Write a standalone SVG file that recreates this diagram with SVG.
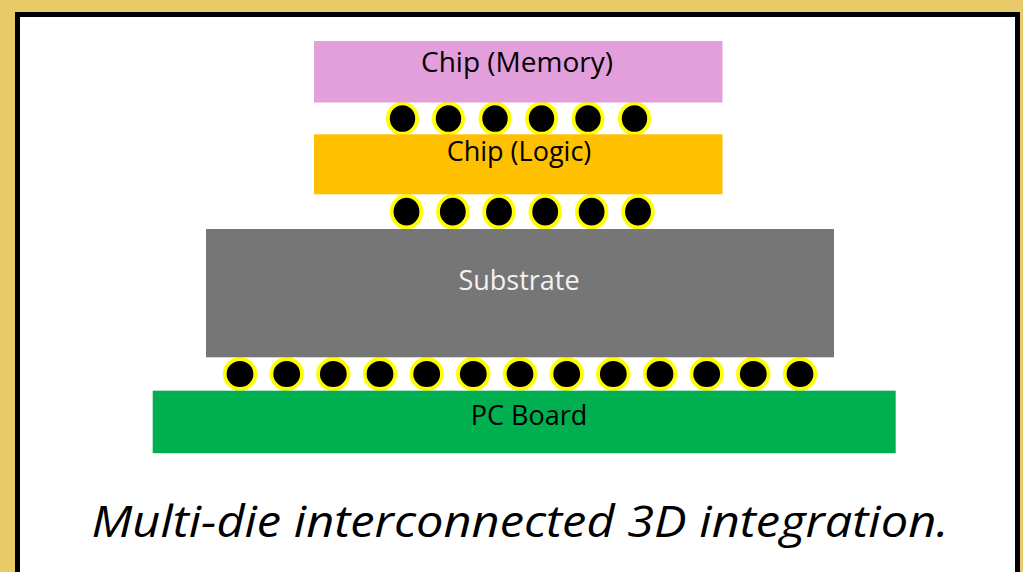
<svg xmlns="http://www.w3.org/2000/svg" width="1023" height="572" viewBox="0 0 1023 572">
  <style>
    .ball { fill: #000000; stroke: #FFFF00; stroke-width: 3.8; }
    .lbl { font-family: "Open Sans", "Noto Sans", sans-serif; font-size: 27px; text-anchor: middle; fill: #000000; }
    .cap { font-family: "Open Sans", "Noto Sans", sans-serif; font-size: 44px; font-style: italic; text-anchor: middle; fill: #000000; }
  </style>
  <rect x="0" y="0" width="1023" height="572" fill="#E8CB69"/>
  <rect x="17.5" y="14.5" width="1000" height="620" fill="#FFFFFF" stroke="#000000" stroke-width="5"/>

  <g id="connectors">
    <g id="bumps-memory-logic">
      <ellipse class="ball" cx="402.5" cy="118.5" rx="14.6" ry="15.2"/>
      <ellipse class="ball" cx="448.5" cy="118.5" rx="14.6" ry="15.2"/>
      <ellipse class="ball" cx="495" cy="118.5" rx="14.6" ry="15.2"/>
      <ellipse class="ball" cx="541.5" cy="118.5" rx="14.6" ry="15.2"/>
      <ellipse class="ball" cx="588" cy="118.5" rx="14.6" ry="15.2"/>
      <ellipse class="ball" cx="634.5" cy="118.5" rx="14.6" ry="15.2"/>
    </g>
    <g id="bumps-logic-substrate">
      <ellipse class="ball" cx="406.5" cy="211.7" rx="14.8" ry="15.8"/>
      <ellipse class="ball" cx="452.8" cy="211.7" rx="14.8" ry="15.8"/>
      <ellipse class="ball" cx="499" cy="211.7" rx="14.8" ry="15.8"/>
      <ellipse class="ball" cx="545.2" cy="211.7" rx="14.8" ry="15.8"/>
      <ellipse class="ball" cx="591.6" cy="211.7" rx="14.8" ry="15.8"/>
      <ellipse class="ball" cx="638" cy="211.7" rx="14.8" ry="15.8"/>
    </g>
    <g id="bumps-substrate-board">
      <ellipse class="ball" cx="240" cy="374" rx="15.3" ry="15"/>
      <ellipse class="ball" cx="286.7" cy="374" rx="15.3" ry="15"/>
      <ellipse class="ball" cx="333.3" cy="374" rx="15.3" ry="15"/>
      <ellipse class="ball" cx="380" cy="374" rx="15.3" ry="15"/>
      <ellipse class="ball" cx="426.7" cy="374" rx="15.3" ry="15"/>
      <ellipse class="ball" cx="473.3" cy="374" rx="15.3" ry="15"/>
      <ellipse class="ball" cx="520" cy="374" rx="15.3" ry="15"/>
      <ellipse class="ball" cx="566.7" cy="374" rx="15.3" ry="15"/>
      <ellipse class="ball" cx="613.3" cy="374" rx="15.3" ry="15"/>
      <ellipse class="ball" cx="660" cy="374" rx="15.3" ry="15"/>
      <ellipse class="ball" cx="706.7" cy="374" rx="15.3" ry="15"/>
      <ellipse class="ball" cx="753.3" cy="374" rx="15.3" ry="15"/>
      <ellipse class="ball" cx="800" cy="374" rx="15.3" ry="15"/>
    </g>
  </g>

  <g id="chip-memory">
    <rect x="314" y="41" width="408.5" height="61.5" fill="#E39EDC"/>
    <text class="lbl" x="517" y="72" style="font-size:28px">Chip (Memory)</text>
  </g>
  <g id="chip-logic">
    <rect x="314" y="134.3" width="408.5" height="60" fill="#FFC000"/>
    <text class="lbl" x="519" y="161">Chip (Logic)</text>
  </g>
  <g id="substrate">
    <rect x="206" y="229" width="628" height="128.3" fill="#767676"/>
    <text class="lbl" x="519" y="290" style="fill:#F2F2F2">Substrate</text>
  </g>
  <g id="pc-board">
    <rect x="152.7" y="390.7" width="743" height="62.5" fill="#00B050"/>
    <text class="lbl" x="529" y="424.5">PC Board</text>
  </g>

  <text class="cap" x="520" y="537" textLength="857" lengthAdjust="spacingAndGlyphs">Multi-die interconnected 3D integration.</text>
</svg>
